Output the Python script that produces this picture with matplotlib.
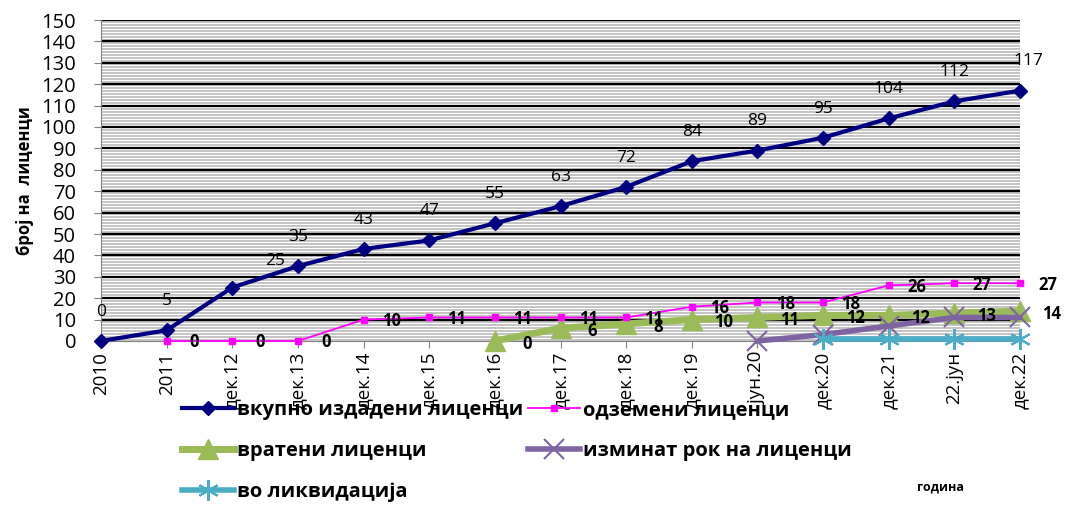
import numpy as np
import matplotlib
matplotlib.use("Agg")
import matplotlib.pyplot as plt

plt.rcParams['font.family'] = ['Open Sans', 'DejaVu Sans']

categories = ["2010", "2011", "дек.12", "дек.13", "дек.14", "дек.15", "дек.16",
              "дек.17", "дек.18", "дек.19", "јун.20", "дек.20", "дек.21",
              "22.јун", "дек.22"]

total_issued = [0, 5, 25, 35, 43, 47, 55, 63, 72, 84, 89, 95, 104, 112, 117]
revoked = [None, 0, 0, 0, 10, 11, 11, 11, 11, 16, 18, 18, 26, 27, 27]
returned = [None] * 6 + [0, 6, 8, 10, 11, 12, 12, 13, 14]
expired = [None] * 10 + [0, 3, 7, 11, 11]
liquidation = [None] * 11 + [1, 1, 1, 1]

names = ["вкупно издадени лиценци", "одземени лиценци", "вратени лиценци",
         "изминат рок на лиценци", "во ликвидација"]


def series(vals):
    xs = [i for i, v in enumerate(vals) if v is not None]
    ys = [v for v in vals if v is not None]
    return xs, ys


fig = plt.figure(figsize=(10.68, 5.07), dpi=100)
ax = fig.add_axes([101 / 1068, 1 - 341 / 507, 919 / 1068, 321 / 507])
ax.set_xlim(0, len(categories) - 1)
ax.set_ylim(0, 150)

# striped plot-area background
for yy in np.arange(0.7, 150, 150 / 107):
    ax.axhline(yy, color="#b4b4b4", lw=1.1, zorder=0)
for yy in range(10, 151, 10):
    ax.axhline(yy, color="black", lw=1.6, zorder=1)

x, y = series(total_issued)
l1, = ax.plot(x, y, color="#000080", lw=3, marker="D", ms=7, zorder=5, clip_on=False)
x, y = series(revoked)
l2, = ax.plot(x, y, color="#FF00FF", lw=1.3, marker="s", ms=5, zorder=4, clip_on=False)
x, y = series(returned)
l3, = ax.plot(x, y, color="#9BBB59", lw=5, marker="^", ms=15, zorder=3, clip_on=False)
x, y = series(expired)
l4, = ax.plot(x, y, color="#8064A2", lw=4, marker="x", ms=14, mew=1.5, zorder=3, clip_on=False)
x, y = series(liquidation)
l5, = ax.plot(x, y, color="#4BACC6", lw=4, marker=(6, 2, 0), ms=15, mew=1.5, zorder=3, clip_on=False)

# data labels
for i, v in enumerate(total_issued):
    dx, dy = (0, 21)
    if categories[i] == "дек.12":
        dx, dy = (31, 19)
    if categories[i] == "дек.22":
        dx = 6
    ax.annotate(str(v), (i, v), xytext=(dx, dy), textcoords="offset points",
                ha="center", va="center", fontsize=12.5, zorder=6, annotation_clip=False)
for i, v in enumerate(revoked):
    if v is None:
        continue
    ax.annotate(str(v), (i, v), xytext=(20, -1), textcoords="offset points",
                ha="center", va="center", fontsize=12, fontweight="bold", zorder=6,
                annotation_clip=False)
for i, v in enumerate(returned):
    if v is None:
        continue
    ax.annotate(str(v), (i, v), xytext=(23, -2), textcoords="offset points",
                ha="center", va="center", fontsize=12, fontweight="bold", zorder=6,
                annotation_clip=False)

ax.set_xticks(range(len(categories)))
ax.set_xticklabels(categories, rotation=90, fontsize=13.5)
ax.set_yticks(range(0, 151, 10))
ax.tick_params(axis="y", labelsize=14.5, length=5, pad=13, color="#808080")
ax.tick_params(axis="x", length=5, pad=3, color="#808080")
for s in ["top", "right"]:
    ax.spines[s].set_visible(False)
ax.spines["left"].set_color("#808080")
ax.spines["bottom"].set_color("#808080")

ax.set_ylabel("број на  лиценци", fontsize=12, fontweight="bold", labelpad=5)
fig.text(940 / 1068, 1 - 487 / 507, "година", fontsize=9, fontweight="bold",
         ha="center", va="center")

leg = fig.legend([l1, l3, l5, l2, l4],
                 [names[0], names[2], names[4], names[1], names[3]],
                 ncol=2, frameon=False, loc="upper left",
                 bbox_to_anchor=(172 / 1068, 1 - 390 / 507),
                 prop={"weight": "bold", "size": 14.5}, handlelength=2.6,
                 handletextpad=0.15, labelspacing=1.05, columnspacing=0.2,
                 borderpad=0)
leg.set_zorder(10)

fig.savefig("out.png", dpi=100)
